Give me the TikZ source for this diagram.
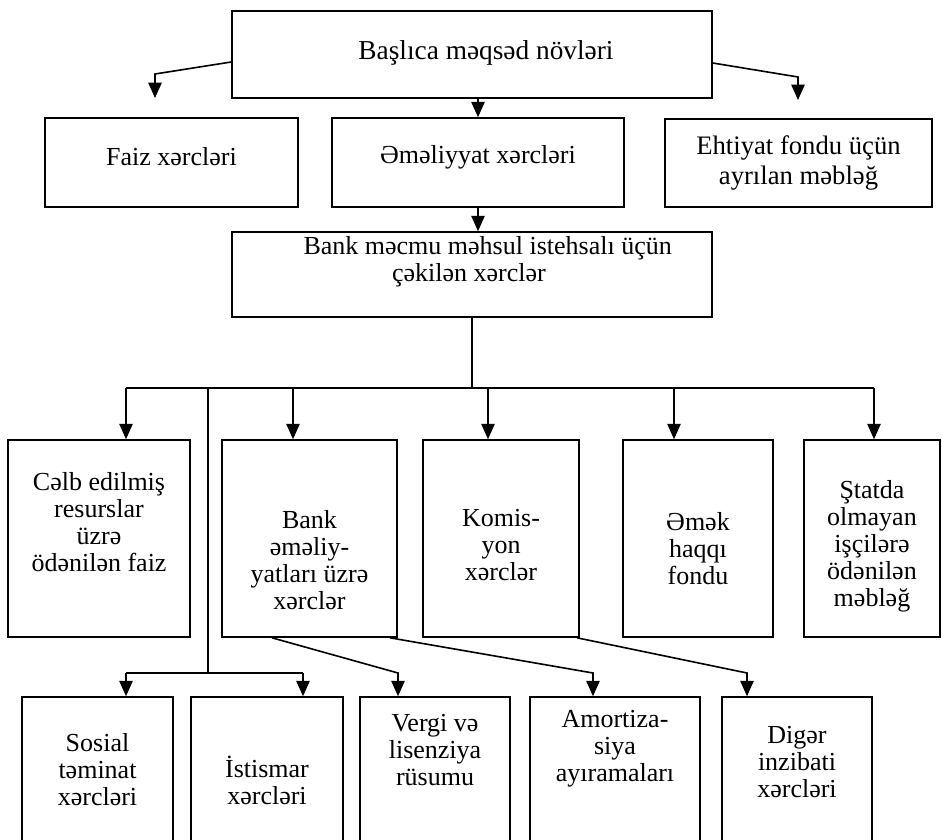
\documentclass[tikz,border=0pt]{standalone}
\usepackage{fontspec}
\setmainfont{Liberation Serif}
\usetikzlibrary{arrows.meta}
\begin{document}
\begin{tikzpicture}[x=0.75pt,y=-0.75pt,
  box/.style={draw, line width=1.2pt, inner sep=0pt},
  lbl/.style={align=center, inner sep=0pt, font=\fontsize{19.5pt}{20.25pt}\selectfont},
  link/.style={line width=1.2pt},
  arr/.style={link, -{Triangle[length=11.5pt,width=10pt]}}]
\useasboundingbox (0,0) rectangle (942,839);
\clip (0,0) rectangle (942,839);

% frames
\node[box, minimum width=360pt, minimum height=65.25pt] (top) at (472,54.5) {};
\node[box, minimum width=189.75pt, minimum height=66.75pt] (faiz) at (171.5,162.5) {};
\node[box, minimum width=219pt, minimum height=66.75pt] (emel) at (478,162.5) {};
\node[box, minimum width=200.25pt, minimum height=66pt] (ehti) at (798.5,163) {};
\node[box, minimum width=360pt, minimum height=63.75pt] (bank) at (472,274.5) {};

\node[box, minimum width=136.5pt, minimum height=147.75pt] (celb) at (99,538.5) {};
\node[box, minimum width=131.25pt, minimum height=147.75pt] (bankem) at (309.5,538.5) {};
\node[box, minimum width=117pt, minimum height=147.75pt] (komis) at (501,538.5) {};
\node[box, minimum width=112.5pt, minimum height=147.75pt] (emek) at (698,538.5) {};
\node[box, minimum width=102pt, minimum height=147.75pt] (statda) at (872,538.5) {};

\node[box, minimum width=113.25pt, minimum height=129.75pt] (sosial) at (97.5,783.5) {};
\node[box, minimum width=114pt, minimum height=129.75pt] (istis) at (267,783.5) {};
\node[box, minimum width=112.5pt, minimum height=129.75pt] (vergi) at (435,783.5) {};
\node[box, minimum width=127.5pt, minimum height=129.75pt] (amort) at (615,783.5) {};
\node[box, minimum width=112.5pt, minimum height=129.75pt] (diger) at (797,783.5) {};

% texts
\node[lbl, font=\fontsize{20.5pt}{21pt}\selectfont] (topT) at (486,53) {Başlıca məqsəd növləri};
\node[lbl] (faizT) at (171.5,157) {Faiz xərcləri};
\node[lbl] (emelT) at (478,157) {Əməliyyat xərcləri};
\node[lbl, font=\fontsize{20pt}{22pt}\selectfont] (ehtiT) at (798.5,163) {Ehtiyat fondu üçün\\ayrılan məbləğ};
\node[lbl] (bankT) at (469,262) {\hspace*{28pt}Bank məcmu məhsul istehsalı üçün\\çəkilən xərclər};

\node[lbl] (celbT) at (99,522) {Cəlb edilmiş\\resurslar\\üzrə\\ödənilən faiz};
\node[lbl] (bankemT) at (309.5,560) {Bank\\əməliy-\\yatları üzrə\\xərclər};
\node[lbl] (komisT) at (501,545) {Komis-\\yon\\xərclər};
\node[lbl] (emekT) at (698,549) {Əmək\\haqqı\\fondu};
\node[lbl] (statdaT) at (872,546) {Ştatda\\olmayan\\işçilərə\\ödənilən\\məbləğ};

\node[lbl] (sosialT) at (97.5,770) {Sosial\\təminat\\xərcləri};
\node[lbl] (istisT) at (267,780) {İstismar\\xərcləri};
\node[lbl] (vergiT) at (435,750) {Vergi və\\lisenziya\\rüsumu};
\node[lbl] (amortT) at (615,749) {Amortiza-\\siya\\ayıramaları};
\node[lbl] (digerT) at (797,762) {Digər\\inzibati\\xərcləri};

% free ends of the two side arrows under the top frame
\coordinate (leftEnd) at (155,98);
\coordinate (rightEnd) at (798,100);

% top level
\draw[arr] (top.west |- 0,62) -- (155,74) -- (leftEnd);
\draw[arr] (top.east |- 0,63) -- (798,77) -- (rightEnd);
\draw[arr] (emel.north |- top.south) -- (emel.north);
\draw[arr] (emel.south) -- (emel.south |- bank.north);

% distribution bus below the bank frame
\coordinate (hub) at (bank.south |- 0,388);
\coordinate (busL) at (126,388);
\coordinate (busR) at (874,388);
\draw[link] (bank.south) -- (hub);
\draw[link] (busL) -- (busR);
\draw[arr] (busL) -- (celb.north -| busL);
\draw[arr] (293,388) -- (bankem.north -| 293,0);
\draw[arr] (488,388) -- (komis.north -| 488,0);
\draw[arr] (674,388) -- (emek.north -| 674,0);
\draw[arr] (busR) -- (statda.north -| busR);

% side branch to the lower row
\coordinate (drop) at (208,388);
\coordinate (lowBus) at (208,673);
\draw[link] (drop) -- (lowBus);
\draw[arr] (126,673) -- (sosial.north -| 126,0);
\draw[link] (126,673) -- (303,673);
\draw[arr] (303,673) -- (istis.north -| 303,0);

% slanted links to the lower row
\draw[arr] (bankem.south -| 272,0) -- (398,673) -- (vergi.north -| 398,0);
\draw[arr] (bankem.south -| 390,0) -- (593,673) -- (amort.north -| 593,0);
\draw[arr] (komis.south -| 577,0) -- (747,673) -- (diger.north -| 747,0);
\end{tikzpicture}
\end{document}
